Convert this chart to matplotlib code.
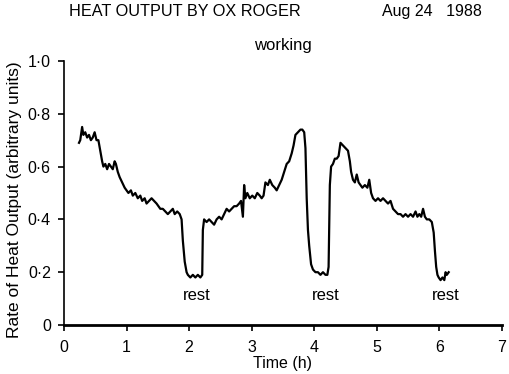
import matplotlib
matplotlib.use("Agg")
import matplotlib.pyplot as plt

# Time (h) and heat output (arbitrary units)
time_h = [0.24, 0.26, 0.29, 0.31, 0.34, 0.37, 0.40, 0.43, 0.46, 0.49, 0.52, 0.55,
          0.58, 0.61, 0.63, 0.66, 0.69, 0.72, 0.75, 0.78, 0.81, 0.83, 0.86, 0.89,
          0.93, 0.97, 1.00, 1.03, 1.07, 1.10, 1.14, 1.18, 1.22, 1.25, 1.29, 1.32,
          1.36, 1.40, 1.44, 1.48, 1.51, 1.54, 1.58, 1.62, 1.66, 1.70, 1.74, 1.77,
          1.81, 1.85, 1.88, 1.90, 1.93, 1.96, 1.98, 2.02, 2.06, 2.10, 2.14, 2.18,
          2.21, 2.22, 2.24, 2.28, 2.32, 2.36, 2.40, 2.44, 2.48, 2.52, 2.56, 2.60,
          2.64, 2.68, 2.72, 2.76, 2.80, 2.83, 2.86, 2.88, 2.90, 2.93, 2.97, 3.01,
          3.05, 3.09, 3.13, 3.16, 3.19, 3.22, 3.26, 3.29, 3.33, 3.37, 3.40, 3.44,
          3.48, 3.52, 3.56, 3.60, 3.64, 3.67, 3.70, 3.74, 3.78, 3.81, 3.84, 3.86,
          3.88, 3.90, 3.92, 3.95, 3.98, 4.02, 4.06, 4.10, 4.14, 4.18, 4.21, 4.23,
          4.25, 4.27, 4.30, 4.33, 4.36, 4.39, 4.42, 4.46, 4.50, 4.54, 4.57, 4.59,
          4.62, 4.65, 4.68, 4.71, 4.74, 4.77, 4.81, 4.85, 4.88, 4.91, 4.94, 4.98,
          5.02, 5.06, 5.10, 5.14, 5.18, 5.22, 5.26, 5.30, 5.34, 5.38, 5.42, 5.46,
          5.50, 5.54, 5.58, 5.62, 5.65, 5.68, 5.71, 5.74, 5.77, 5.80, 5.84, 5.88,
          5.91, 5.93, 5.95, 5.97, 5.99, 6.02, 6.05, 6.08, 6.10, 6.12, 6.15]
heat = [0.69, 0.70, 0.75, 0.72, 0.73, 0.71, 0.72, 0.70, 0.71, 0.73, 0.70, 0.70,
        0.66, 0.62, 0.60, 0.61, 0.59, 0.61, 0.60, 0.59, 0.62, 0.61, 0.58, 0.56,
        0.54, 0.52, 0.51, 0.50, 0.51, 0.49, 0.50, 0.48, 0.49, 0.47, 0.48, 0.46,
        0.47, 0.48, 0.47, 0.46, 0.45, 0.44, 0.44, 0.43, 0.42, 0.43, 0.44, 0.42,
        0.43, 0.42, 0.40, 0.32, 0.24, 0.20, 0.19, 0.18, 0.19, 0.18, 0.19, 0.18,
        0.19, 0.36, 0.40, 0.39, 0.40, 0.39, 0.38, 0.40, 0.41, 0.40, 0.42, 0.44,
        0.43, 0.44, 0.45, 0.45, 0.46, 0.47, 0.41, 0.53, 0.48, 0.50, 0.48, 0.49,
        0.48, 0.50, 0.49, 0.48, 0.49, 0.54, 0.53, 0.55, 0.53, 0.52, 0.51, 0.53,
        0.55, 0.58, 0.61, 0.62, 0.65, 0.68, 0.72, 0.73, 0.74, 0.74, 0.73, 0.67,
        0.48, 0.36, 0.30, 0.23, 0.21, 0.20, 0.20, 0.19, 0.20, 0.19, 0.19, 0.22,
        0.53, 0.60, 0.61, 0.63, 0.63, 0.64, 0.69, 0.68, 0.67, 0.66, 0.62, 0.58,
        0.55, 0.54, 0.57, 0.54, 0.53, 0.52, 0.53, 0.52, 0.55, 0.50, 0.48, 0.47,
        0.48, 0.47, 0.48, 0.47, 0.46, 0.47, 0.44, 0.43, 0.42, 0.42, 0.41, 0.42,
        0.41, 0.42, 0.41, 0.43, 0.41, 0.42, 0.41, 0.44, 0.41, 0.40, 0.40, 0.39,
        0.35, 0.28, 0.22, 0.19, 0.18, 0.17, 0.18, 0.17, 0.20, 0.19, 0.20]

x_ticks = [0, 1, 2, 3, 4, 5, 6, 7]
y_ticks = [0, 0.2, 0.4, 0.6, 0.8, 1.0]
y_tick_labels = ["0", "0\u00b72", "0\u00b74", "0\u00b76", "0\u00b78", "1\u00b70"]
rest_labels = [(2.12, "rest"), (4.19, "rest"), (6.1, "rest")]

plt.rcParams['font.family'] = ['Liberation Sans', 'DejaVu Sans']

fig = plt.figure(figsize=(5.09, 3.74), dpi=100)
ax = fig.add_axes([0.1257, 0.131, 0.8603, 0.706])

ax.plot(time_h, heat, color='black', lw=1.6)

ax.set_xlim(0, 7)
ax.set_ylim(0, 1.0)
ax.set_xticks(x_ticks)
ax.set_xticklabels([str(t) for t in x_ticks])
ax.set_yticks(y_ticks)
ax.set_yticklabels(y_tick_labels)
ax.tick_params(direction='out', length=4.5, width=1.2, labelsize=11.5)
ax.tick_params(axis='x', pad=6)
ax.tick_params(axis='y', pad=5)
for s in ['top', 'right']:
    ax.spines[s].set_visible(False)
ax.spines['left'].set_linewidth(1.2)
ax.spines['bottom'].set_linewidth(2.0)

ax.set_xlabel("Time (h)", fontsize=11.5, labelpad=1)
ax.set_ylabel("Rate of Heat Output (arbitrary units)", fontsize=12.5)
ax.yaxis.set_label_coords(-0.097, 0.473)

for t, lab in rest_labels:
    ax.text(t, 0.14, lab, ha='center', va='top', fontsize=12)

ax.text(3.5, 1.03, "working", ha='center', va='bottom', fontsize=12)

fig.text(0.363, 0.968, "HEAT OUTPUT BY OX ROGER", ha='center', va='center', fontsize=11.7)
fig.text(0.848, 0.968, "Aug 24   1988", ha='center', va='center', fontsize=11.5)

fig.savefig("out.png", dpi=100)
